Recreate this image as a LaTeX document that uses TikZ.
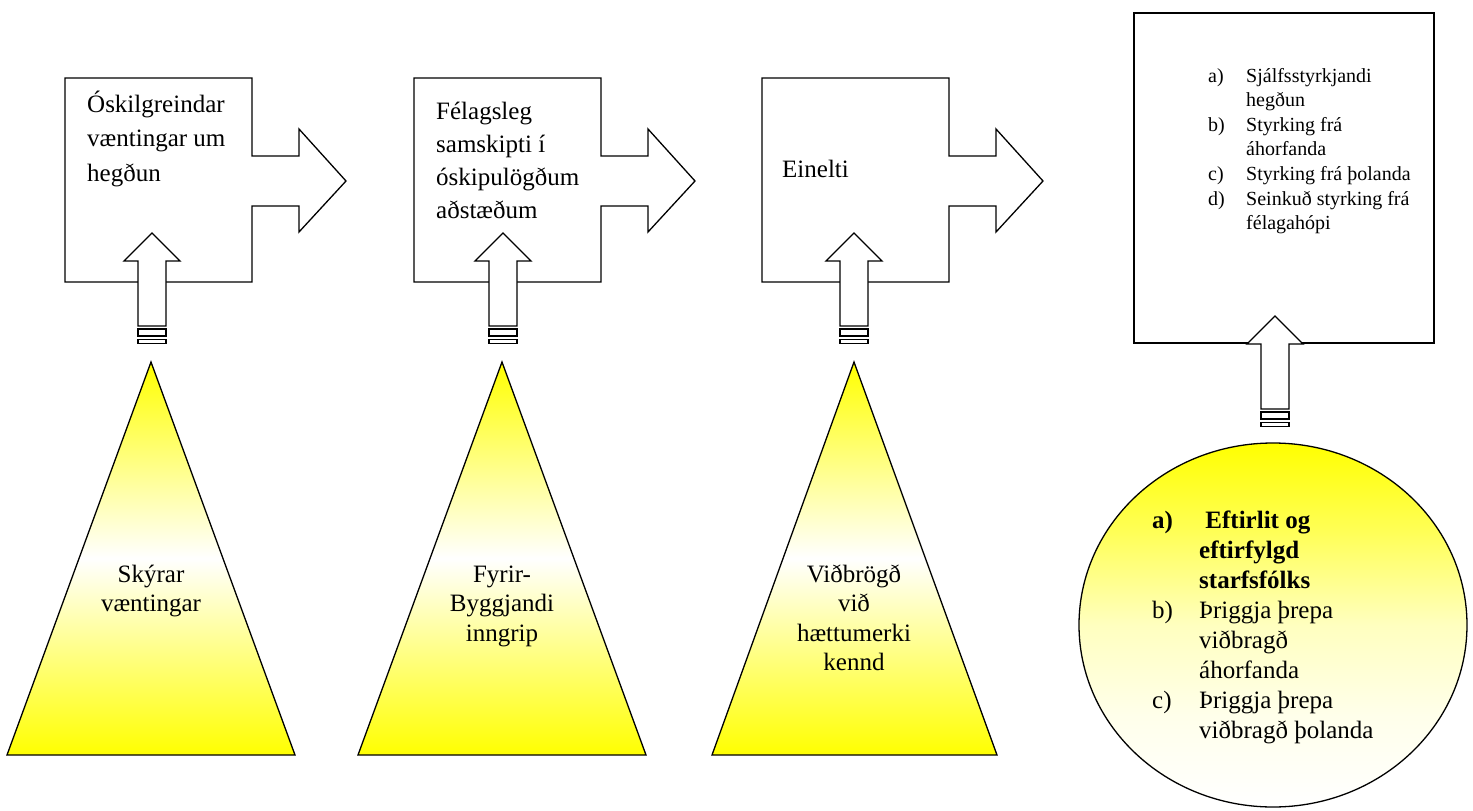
\documentclass[tikz,border=0pt]{standalone}
\usepackage{fontspec}
\setmainfont{Liberation Serif}
\pgfdeclareverticalshading{circshade}{100bp}{color(0bp)=(white); color(25bp)=(white); color(37.5bp)=(yellow!8); color(50bp)=(yellow!25); color(62.5bp)=(yellow!65); color(75bp)=(yellow); color(100bp)=(yellow)}
\tikzset{
  shapeline/.style={draw=black, line width=1.3pt, line join=miter},
  boxtext/.style={anchor=base west, inner sep=0pt, font=\fontsize{25}{34.5}\selectfont},
  boxtextb/.style={anchor=base west, inner sep=0pt, font=\fontsize{25}{33}\selectfont},
  tritext/.style={anchor=base, inner sep=0pt, font=\fontsize{25}{29.6}\selectfont},
  listtext/.style={anchor=base west, inner sep=0pt, font=\fontsize{20}{24.6}\selectfont},
  circtext/.style={anchor=base west, inner sep=0pt, font=\fontsize{25}{30}\selectfont},
  trifill/.style={shapeline, top color=yellow, bottom color=yellow, middle color=white},
}
\newcommand{\myboxarrow}[1]{%
  \draw[shapeline, fill=white] (#1,78) -- ({#1+187},78) -- ({#1+187},156) -- ({#1+234},156)
    -- ({#1+234},129) -- ({#1+281},181) -- ({#1+234},232) -- ({#1+234},206)
    -- ({#1+187},206) -- ({#1+187},282) -- (#1,282) -- cycle;}
\newcommand{\myuparrow}[2]{%
  \draw[shapeline, fill=white] (#1,#2) -- ({#1+28},{#2+28}) -- ({#1+14},{#2+28})
    -- ({#1+14},{#2+93}) -- ({#1-14},{#2+93}) -- ({#1-14},{#2+28}) -- ({#1-28},{#2+28}) -- cycle;
  \draw[shapeline, fill=white] ({#1-14},{#2+96}) rectangle ({#1+14},{#2+103});
  \draw[shapeline, fill=white] ({#1-14},{#2+106.5}) rectangle ({#1+14},{#2+110.5});}
\begin{document}
\begin{tikzpicture}[x=1pt, y=-1pt]
\fill[white] (0,0) rectangle (1473,811);
\useasboundingbox (0,0) rectangle (1473,811);

% boxes with right arrows
\myboxarrow{65}
\myboxarrow{414}
\myboxarrow{762}
% top right box
\draw[shapeline, fill=white] (1134,13) rectangle (1434,343);

% up arrows
\myuparrow{152}{233}
\myuparrow{503}{233}
\myuparrow{854}{233}
\myuparrow{1275}{316}

% triangles
\draw[trifill] (151,362) -- (295,755) -- (7,755) -- cycle;
\draw[trifill] (502,362) -- (646,755) -- (358,755) -- cycle;
\draw[trifill] (854,362) -- (997,755) -- (712,755) -- cycle;

% circle
\draw[shapeline, shading=circshade] (1273,625) ellipse [x radius=194, y radius=182];

% texts
\node[boxtext] (t1) at (87,112) {\begin{tabular}[t]{@{}l@{}}Óskilgreindar\\væntingar um\\hegðun\end{tabular}};
\node[boxtextb] (t2) at (436,119) {\begin{tabular}[t]{@{}l@{}}Félagsleg\\samskipti í\\óskipulögðum\\aðstæðum\end{tabular}};
\node[boxtext] (t3) at (782,177) {Einelti};
\node[listtext] (t4) at (1208,82) {\begin{tabular}[t]{@{}p{38pt}@{}l@{}}
a) & Sjálfsstyrkjandi\\
 & hegðun\\
b) & Styrking frá\\
 & áhorfanda\\
c) & Styrking frá þolanda\\
d) & Seinkuð styrking frá\\
 & félagahópi\end{tabular}};

\node[tritext] (s1) at (151,582) {\begin{tabular}[t]{@{}c@{}}Skýrar\\væntingar\end{tabular}};
\node[tritext] (s2) at (502,582) {\begin{tabular}[t]{@{}c@{}}Fyrir-\\Byggjandi\\inngrip\end{tabular}};
\node[tritext] (s3) at (854,582) {\begin{tabular}[t]{@{}c@{}}Viðbrögð\\við\\hættumerki\\kennd\end{tabular}};

\node[circtext] (c1) at (1152,528) {\begin{tabular}[t]{@{}p{47pt}@{}l@{}}
\textbf{a)} & \textbf{\ Eftirlit og}\\
 & \textbf{eftirfylgd}\\
 & \textbf{starfsfólks}\\
b) & Þriggja þrepa\\
 & viðbragð\\
 & áhorfanda\\
c) & Þriggja þrepa\\
 & viðbragð þolanda\end{tabular}};
\end{tikzpicture}
\end{document}
